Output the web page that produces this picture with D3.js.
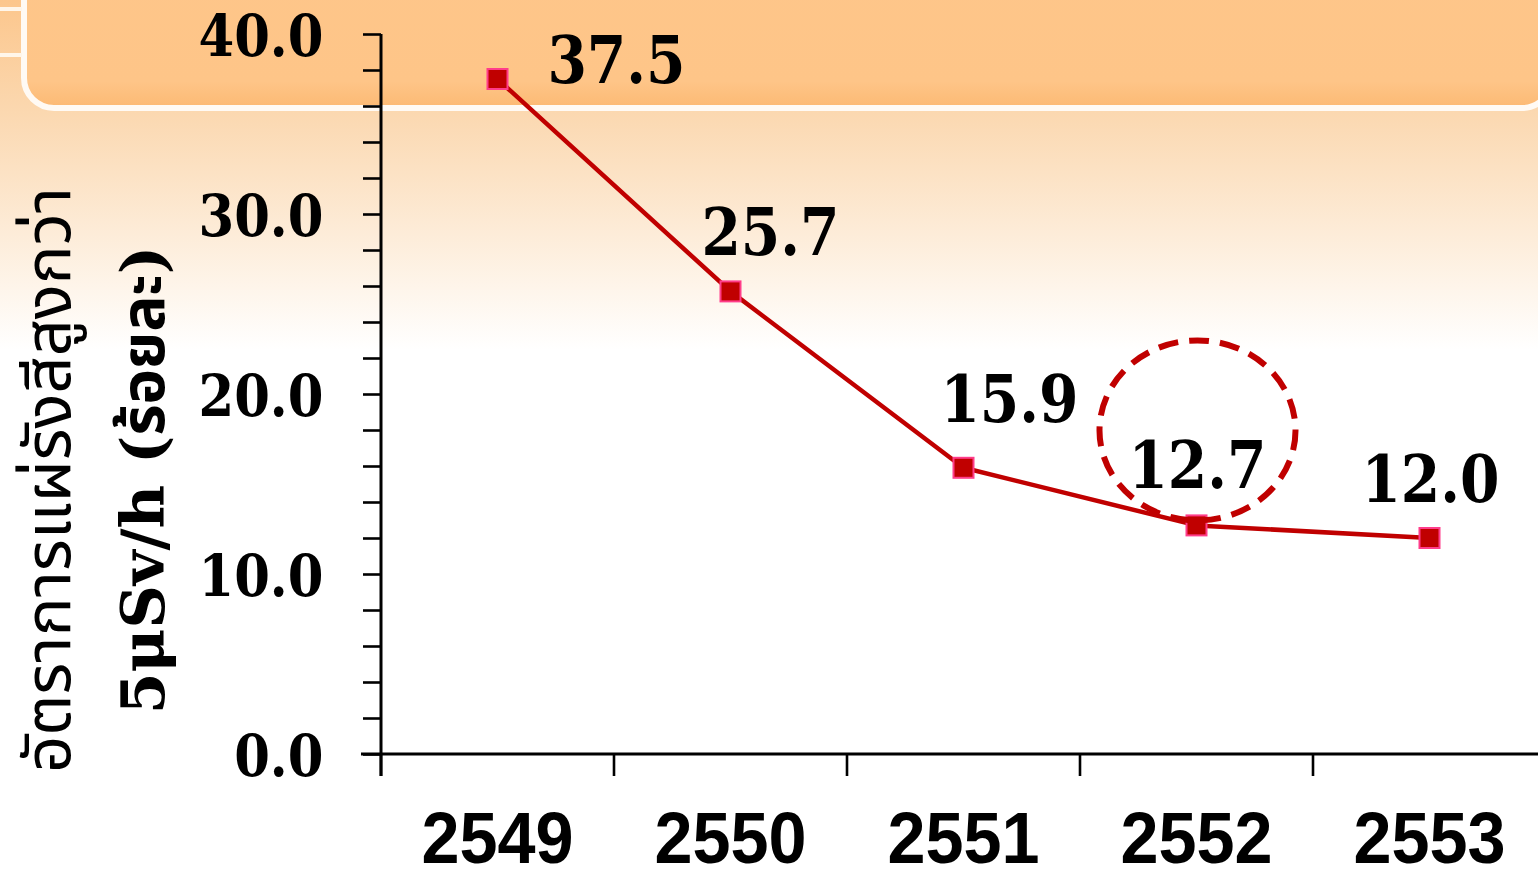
<!DOCTYPE html>
<html>
<head>
<meta charset="utf-8">
<script src="https://cdn.jsdelivr.net/npm/d3@7"></script>
<style>
  html, body { margin: 0; padding: 0; background: #fff; }
  svg { display: block; }
</style>
</head>
<body>
<svg id="chart" width="1538" height="871"></svg>
<script>
// data
const years = ["2549", "2550", "2551", "2552", "2553"];
const rates = [37.5, 25.7, 15.9, 12.7, 12.0];
const yMajorTicks = [0, 10, 20, 30, 40];
const yMinorStep = 2;
const highlightYear = "2552";
const yTitleLines = ["อัตราการแผ่รังสีสูงกว่า", "5μSv/h (ร้อยละ)"];

const W = 1538, H = 871;
const RED = "#c00000";
const SERIF = "'DejaVu Serif', serif";
const SANS = "'Liberation Sans', Arial, sans-serif";

const svg = d3.select("#chart");
const defs = svg.append("defs");

// ---- background (slide decoration) ----
const bg = defs.append("linearGradient").attr("id", "bgGrad")
  .attr("x1", 0).attr("y1", 0).attr("x2", 0).attr("y2", 1);
bg.append("stop").attr("offset", "0%").attr("stop-color", "#fcc68c");
bg.append("stop").attr("offset", "32%").attr("stop-color", "#fbd8b0");
bg.append("stop").attr("offset", "100%").attr("stop-color", "#ffffff");

const hdr = defs.append("linearGradient").attr("id", "hdrGrad")
  .attr("x1", 0).attr("y1", 0).attr("x2", 0).attr("y2", 1);
hdr.append("stop").attr("offset", "0%").attr("stop-color", "#fec68a");
hdr.append("stop").attr("offset", "82%").attr("stop-color", "#fec588");
hdr.append("stop").attr("offset", "100%").attr("stop-color", "#fcb973");

svg.append("rect").attr("width", W).attr("height", H).attr("fill", "#fff");
svg.append("rect").attr("width", W).attr("height", 350).attr("fill", "url(#bgGrad)");

svg.append("rect")
  .attr("x", 24).attr("y", -40)
  .attr("width", W - 24 + 14).attr("height", 148)
  .attr("rx", 30).attr("ry", 30)
  .attr("fill", "url(#hdrGrad)")
  .attr("stroke", "#fffaf4").attr("stroke-width", 6);

// small white rule bits at the far left edge
[9, 55].forEach(yy => {
  svg.append("line")
    .attr("x1", 0).attr("x2", 22).attr("y1", yy).attr("y2", yy)
    .attr("stroke", "#fff6ea").attr("stroke-width", 4);
});

// ---- scales ----
const x = d3.scaleBand().domain(years).range([381, 381 + 233 * years.length]).padding(0);
const y = d3.scaleLinear().domain([0, 40]).range([754, 34]);
const cxOf = d => x(d) + x.bandwidth() / 2;

// ---- y axis ----
const yAxis = d3.axisLeft(y)
  .tickValues(d3.range(0, 40 + yMinorStep, yMinorStep))
  .tickSize(18)
  .tickSizeOuter(0)
  .tickFormat(v => yMajorTicks.includes(v) ? d3.format(".1f")(v) : "");

const gy = svg.append("g").attr("transform", "translate(381,0)").call(yAxis);
gy.select(".domain").attr("stroke", "#000").attr("stroke-width", 3)
  .attr("d", `M0,${y(40)}V${y(0) + 22}`);
gy.selectAll(".tick line").attr("stroke", "#000").attr("stroke-width", 2.6);
gy.selectAll(".tick text")
  .attr("fill", "#000")
  .attr("font-family", SERIF)
  .attr("font-weight", "bold")
  .attr("font-size", 57)
  .attr("x", -64)
  .attr("dy", "0.37em")
  .attr("transform", "scale(0.9,1)");

// ---- x axis (ticks on band edges, labels at centres) ----
const gx = svg.append("g").attr("transform", `translate(0,${y(0)})`);
gx.append("line")
  .attr("x1", 361).attr("x2", W + 10)
  .attr("stroke", "#000").attr("stroke-width", 3);
gx.selectAll("line.edge").data(years).join("line")
  .attr("class", "edge")
  .attr("x1", d => x(d)).attr("x2", d => x(d))
  .attr("y1", 0).attr("y2", 22)
  .attr("stroke", "#000").attr("stroke-width", 2.6);
gx.selectAll("g.lab").data(years).join("g")
  .attr("class", "lab")
  .attr("transform", d => `translate(${cxOf(d)},109)`)
  .append("text")
  .attr("text-anchor", "middle")
  .attr("font-family", SANS)
  .attr("font-weight", "bold")
  .attr("font-size", 72)
  .attr("transform", "scale(0.95,1)")
  .attr("fill", "#000")
  .text(d => d);

// ---- y title ----
const yt = svg.append("g").attr("transform", "translate(0,480)");
yt.append("text")
  .attr("transform", "translate(70,0) rotate(-90)")
  .attr("text-anchor", "middle")
  .attr("font-family", "'Noto Sans Thai', 'Noto Sans', 'DejaVu Sans', sans-serif")
  .attr("font-size", 65)
  .attr("fill", "#000")
  .text(yTitleLines[0]);
yt.append("text")
  .attr("transform", "translate(164,0) rotate(-90)")
  .attr("text-anchor", "middle")
  .attr("font-family", "'DejaVu Serif', 'Noto Sans Thai', serif")
  .attr("font-weight", "bold")
  .attr("font-size", 60)
  .attr("fill", "#000")
  .text(yTitleLines[1]);

// ---- series ----
const pts = years.map((yr, i) => ({ yr, v: rates[i] }));

const line = d3.line().x(d => cxOf(d.yr)).y(d => y(d.v));
svg.append("path")
  .datum(pts)
  .attr("d", line)
  .attr("fill", "none")
  .attr("stroke", RED)
  .attr("stroke-width", 4.5)
  .attr("stroke-linejoin", "round");

svg.selectAll("rect.mk").data(pts).join("rect")
  .attr("class", "mk")
  .attr("x", d => cxOf(d.yr) - 10)
  .attr("y", d => y(d.v) - 10)
  .attr("width", 20).attr("height", 20)
  .attr("fill", RED)
  .attr("stroke", "#ff3d8a")
  .attr("stroke-width", 2);

// value labels, nudged like the original
const labelNudge = [[119, 4], [40, -36], [46, -46], [1, -37], [1, -36]];
svg.selectAll("g.val").data(pts).join("g")
  .attr("class", "val")
  .attr("transform", (d, i) => `translate(${cxOf(d.yr) + labelNudge[i][0]},${y(d.v) + labelNudge[i][1]})`)
  .append("text")
  .attr("text-anchor", "middle")
  .attr("font-family", SERIF)
  .attr("font-weight", "bold")
  .attr("font-size", 66)
  .attr("transform", "scale(0.86,1)")
  .attr("fill", "#000")
  .text(d => d.v.toFixed(1));

// dashed highlight ring
const hp = pts.find(d => d.yr === highlightYear);
svg.append("ellipse")
  .attr("cx", cxOf(hp.yr) + 1)
  .attr("cy", y(hp.v) - 95)
  .attr("rx", 98).attr("ry", 90)
  .attr("fill", "none")
  .attr("stroke", RED)
  .attr("stroke-width", 6)
  .attr("stroke-dasharray", "20 11");
</script>
</body>
</html>
